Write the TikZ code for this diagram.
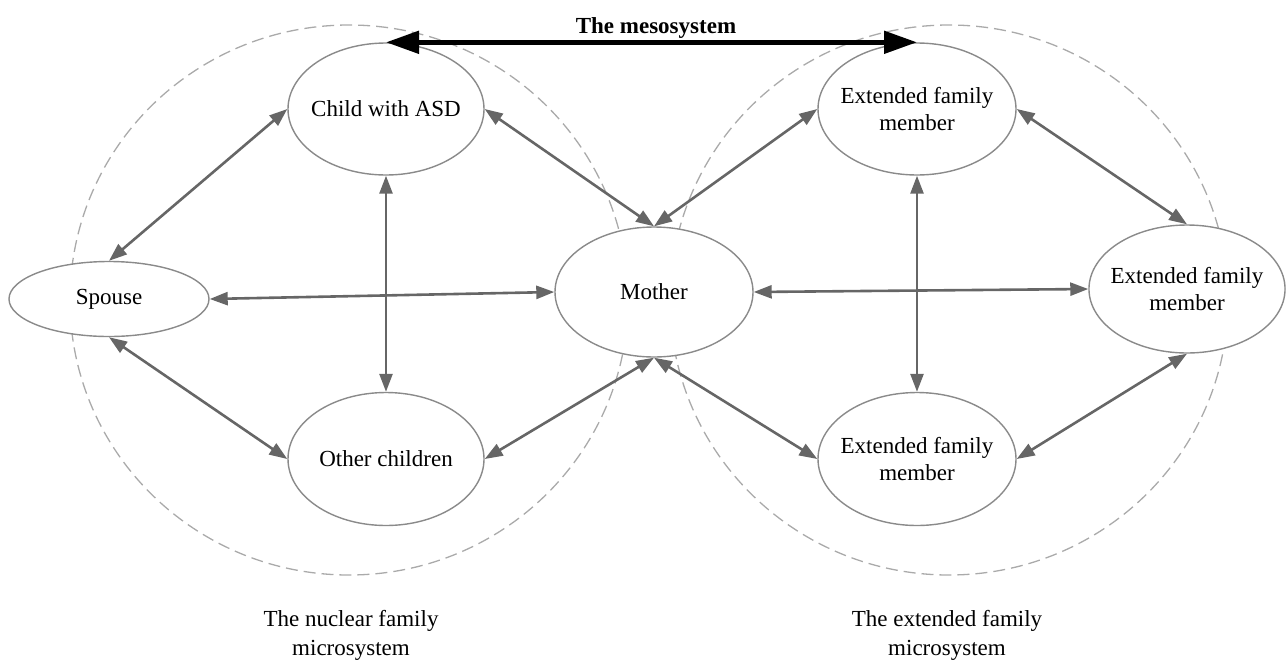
\documentclass[tikz,border=0pt]{standalone}
\usepackage{fontspec}
\setmainfont{Liberation Serif}
\usetikzlibrary{arrows.meta,shapes.geometric}
\definecolor{ellgray}{HTML}{8A8A8A}
\definecolor{arrgray}{HTML}{666666}
\definecolor{dashgray}{HTML}{AAAAAA}
\begin{document}
\begin{tikzpicture}[x=1pt,y=-1pt,
  member/.style={ellipse, draw=ellgray, fill=white, line width=1.4pt, align=center,
    inner xsep=-7pt, inner ysep=0pt, font=\fontsize{23}{27}\selectfont},
  link/.style={draw=arrgray, line width=2.6pt,
    {Triangle[length=18pt,width=13pt]}-{Triangle[length=18pt,width=13pt]}},
  meso/.style={draw=black, line width=5pt,
    {Triangle[length=33pt,width=22pt]}-{Triangle[length=33pt,width=22pt]}},
  system/.style={draw=dashgray, line width=1.3pt, dash pattern=on 12pt off 6pt},
  caption/.style={align=center, font=\fontsize{23}{29}\selectfont},
]
\useasboundingbox (0,0) rectangle (1287,659);

% the two microsystems
\draw[system] (349,300) ellipse [x radius=279pt, y radius=275pt];
\draw[system] (949,300) ellipse [x radius=279pt, y radius=275pt];

% family members
\node[member, minimum width=196pt, minimum height=132pt] (child)  at (386,109) {Child with ASD};
\node[member, minimum width=200pt, minimum height=75pt]  (spouse) at (109,299) {Spouse};
\node[member, minimum width=196pt, minimum height=133pt] (other)  at (386,459) {Other children};
\node[member, minimum width=198pt, minimum height=130pt] (mother) at (654,292) {Mother};
\node[member, minimum width=198pt, minimum height=132pt] (extA)   at (917,109) {Extended family\\member};
\node[member, minimum width=196pt, minimum height=128pt] (extB)   at (1187,289) {Extended family\\member};
\node[member, minimum width=198pt, minimum height=133pt] (extC)   at (917,459) {Extended family\\member};

% nuclear family links
\draw[link] (spouse.north) -- (child.west);
\draw[link] (spouse.south) -- (other.west);
\draw[link] (spouse.east)  -- (mother.west);
\draw[link] (child.south)  -- (other.north);
\draw[link] (child.east)   -- (mother.north);
\draw[link] (other.east)   -- (mother.south);

% extended family links
\draw[link] (mother.north) -- (extA.west);
\draw[link] (mother.south) -- (extC.west);
\draw[link] (mother.east)  -- (extB.west);
\draw[link] (extA.south)   -- (extC.north);
\draw[link] (extA.east)    -- (extB.north);
\draw[link] (extC.east)    -- (extB.south);

% the mesosystem
\draw[meso] (child.north) -- (extA.north);
\node[font=\fontsize{23}{27}\selectfont\bfseries] (mesolabel) at (656,28) {The mesosystem};

% captions
\node[caption] (nuclear)  at (351,635) {The nuclear family\\microsystem};
\node[caption] (extended) at (947,635) {The extended family\\microsystem};
\end{tikzpicture}
\end{document}
